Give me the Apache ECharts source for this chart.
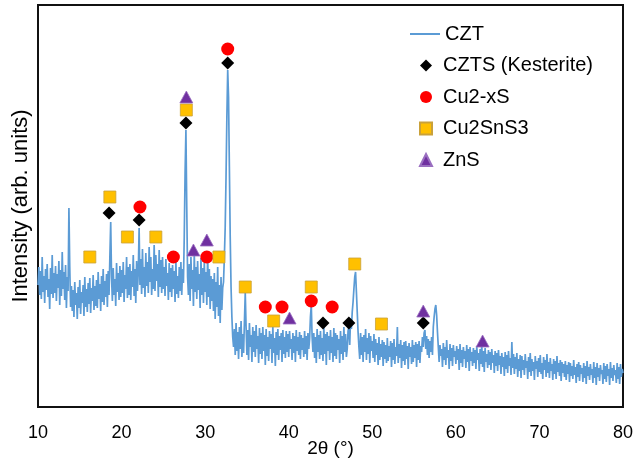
<!DOCTYPE html>
<html>
<head>
<meta charset="utf-8">
<script src="https://cdn.jsdelivr.net/npm/echarts@6/dist/echarts.min.js"></script>
<style>
html,body{margin:0;padding:0;background:#fff;}
#chart{width:634px;height:461px;}
</style>
</head>
<body>
<div id="chart"></div>
<script>
// 2θ sampling grid of the scan (degrees)
var thetaStart = 10, thetaStep = 0.1;
// Intensity (arb. units), one row per degree (x.0 ... x.9)
var intensity = [
 122,140,112,136,108,150,115,131,104,138,
 117,143,110,128,98,139,113,152,109,134,
 114,141,106,133,119,146,102,137,111,155,
 118,135,107,142,99,130,116,199,140,100,
 121,96,117,90,125,102,114,88,120,99,
 127,93,115,104,122,91,130,100,118,95,
 124,103,129,94,119,106,132,97,121,101,
 127,99,135,108,123,96,131,105,138,102,
 126,110,133,100,136,112,150,185,130,106,
 139,112,128,101,144,115,134,107,141,110,
 137,114,145,105,132,118,150,109,140,112,
 143,107,136,120,152,111,138,104,146,116,
 135,179,122,148,113,158,119,140,110,154,
 121,145,114,160,125,150,112,138,118,162,
 116,152,126,143,110,157,120,147,114,150,
 118,140,111,148,121,134,107,144,115,139,
 110,142,118,136,105,146,113,131,109,140,
 116,145,112,138,124,170,234,277,200,130,
 112,143,106,150,118,137,101,154,115,140,
 108,146,117,133,99,149,112,139,104,145,
 115,135,102,152,110,138,98,131,106,128,
 96,134,88,125,100,140,91,122,84,130,
 97,119,125,150,180,230,290,337,310,240,
 170,120,90,70,60,78,52,84,56,75,
 48,80,58,86,50,73,54,85,114,80,
 52,77,47,84,60,72,45,80,55,76,
 50,82,58,71,44,79,53,74,48,80,
 56,72,42,78,51,70,46,76,58,73,
 44,80,54,69,41,75,52,78,47,71,
 57,74,45,77,53,70,49,76,55,73,
 50,76,58,68,47,74,54,71,45,77,
 56,70,52,75,48,72,57,69,50,76,
 53,71,47,74,58,68,90,102,70,55,
 74,49,70,44,78,55,72,48,76,52,
 69,46,80,53,73,42,75,56,71,47,
 77,54,70,45,79,51,74,48,72,57,
 68,44,76,53,71,47,80,55,73,50,
 58,76,80,62,88,78,95,105,118,130,
 135,115,95,75,60,48,74,52,70,45,
 72,55,78,47,69,53,74,44,71,56,
 66,49,73,45,68,52,64,42,70,47,
 63,50,67,41,65,48,62,44,69,46,
 61,50,66,40,64,47,68,43,60,51,
 80,44,63,49,67,39,62,46,65,42,
 66,48,61,38,64,50,60,43,67,45,
 62,49,65,40,63,47,66,44,61,55,
 70,60,74,77,58,71,52,68,49,66,
 55,70,52,80,90,98,102,92,75,60,
 45,62,51,58,40,64,47,60,42,67,
 49,57,38,63,46,59,41,62,50,56,
 43,61,47,58,37,63,44,57,40,60,
 48,56,39,62,45,58,36,60,46,55,
 41,59,44,57,38,61,47,54,36,58,
 43,62,40,56,35,59,45,53,39,57,
 42,55,37,58,44,52,34,56,41,54,
 36,57,42,51,33,54,40,50,31,55,
 38,52,34,56,41,49,32,65,39,53,
 33,50,38,54,30,48,36,52,29,51,
 37,47,32,53,39,46,28,50,35,54,
 31,48,36,45,27,51,38,46,30,49,
 35,52,33,44,28,50,37,47,30,53,
 34,45,29,49,36,43,27,48,33,46,
 28,51,35,44,31,47,26,45,34,43,
 30,46,27,42,33,45,25,44,31,41,
 28,47,32,40,24,43,30,45,26,42,
 33,39,25,44,29,41,23,46,31,40,
 27,43,32,38,24,45,29,40,22,44,
 30,39,26,42,33,37,23,44,28,41,
 25,43,31,38,22,45,29,39,26,42,
 32,37,24,44,28,40,23,43,30,38,
 34
];
// Phase markers [2θ, height]
var kesterite = [[18.5,194],[22.1,187],[27.7,284],[32.7,344],[44.1,84],[47.2,84],[56.1,84]];
var cu2xs = [[22.2,200],[26.2,150],[30.2,150],[32.7,358],[37.2,100],[39.2,100],[42.7,106],[45.2,100]];
var cu2sns3 = [[16.2,150],[18.6,210],[20.7,170],[24.1,170],[27.75,297],[31.65,150],[34.8,120],[38.2,86],[42.7,120],[47.9,143],[51.1,83]];
var zns = [[27.75,310],[28.6,157],[30.2,167],[40.1,89],[56.1,96],[63.2,66]];
var xTicks = [10,20,30,40,50,60,70,80];
var seriesNames = ['CZT','CZTS (Kesterite)','Cu2-xS','Cu2SnS3','ZnS'];

var pattern = intensity.map(function(v,i){ return [+(thetaStart + i*thetaStep).toFixed(1), v]; });

var font = "'Liberation Sans', Arial, sans-serif";
var chart = echarts.init(document.getElementById('chart'), null, {renderer:'canvas'});
chart.setOption({
  animation:false,
  backgroundColor:'#fff',
  grid:{left:38,right:11,top:5,bottom:54,show:true,borderColor:'#111',borderWidth:2,
    backgroundColor:'transparent',containLabel:false,outerBoundsMode:'none'},
  xAxis:{type:'value',min:xTicks[0],max:xTicks[xTicks.length-1],interval:10,
    axisLine:{show:false},axisTick:{show:false},splitLine:{show:false},
    axisLabel:{fontSize:18,color:'#000',fontFamily:font,margin:17},
    name:'2θ (°)',nameLocation:'middle',nameGap:32,nameMoveOverlap:false,
    nameTextStyle:{fontSize:19,color:'#000',fontFamily:font}},
  yAxis:{type:'value',min:0,max:402,
    axisLine:{show:false},axisTick:{show:false},splitLine:{show:false},axisLabel:{show:false},
    name:'Intensity (arb. units)',nameLocation:'middle',nameGap:6,nameRotate:90,nameMoveOverlap:false,
    nameTextStyle:{fontSize:22,color:'#000',fontFamily:font}},
  legend:[
    {orient:'vertical',left:410,top:24,itemWidth:30,itemHeight:2,padding:0,
      textStyle:{fontSize:20,color:'#000',fontFamily:font,lineHeight:20},
      data:[{name:seriesNames[0],icon:'rect'}]},
    {orient:'vertical',left:419,top:55.5,itemWidth:12,itemHeight:12,itemGap:11.5,padding:0,
      textStyle:{fontSize:20,color:'#000',fontFamily:font,lineHeight:20,padding:[0,0,0,6]},
      data:[{name:seriesNames[1],icon:'diamond'},{name:seriesNames[2],icon:'circle'},
            {name:seriesNames[3],icon:'rect'},{name:seriesNames[4],icon:'triangle'}]}
  ],
  series:[
    {name:seriesNames[0],type:'line',data:pattern,symbol:'none',
      lineStyle:{color:'#5B9BD5',width:1.7},itemStyle:{color:'#5B9BD5'},z:2},
    {name:seriesNames[1],type:'scatter',data:kesterite,symbol:'diamond',symbolSize:13,
      itemStyle:{color:'#000',opacity:1},z:3},
    {name:seriesNames[2],type:'scatter',data:cu2xs,symbol:'circle',symbolSize:13,
      itemStyle:{color:'#FF0000',opacity:1},z:3},
    {name:seriesNames[3],type:'scatter',data:cu2sns3,symbol:'rect',symbolSize:12,
      itemStyle:{color:'#FFC000',borderColor:'#C9A13A',borderWidth:0.8,opacity:1},z:3},
    {name:seriesNames[4],type:'scatter',data:zns,symbol:'triangle',symbolSize:[13,12],
      itemStyle:{color:'#7030A0',borderColor:'#9A6FC0',borderWidth:0.8,opacity:1},z:3}
  ]
});
</script>
</body>
</html>
